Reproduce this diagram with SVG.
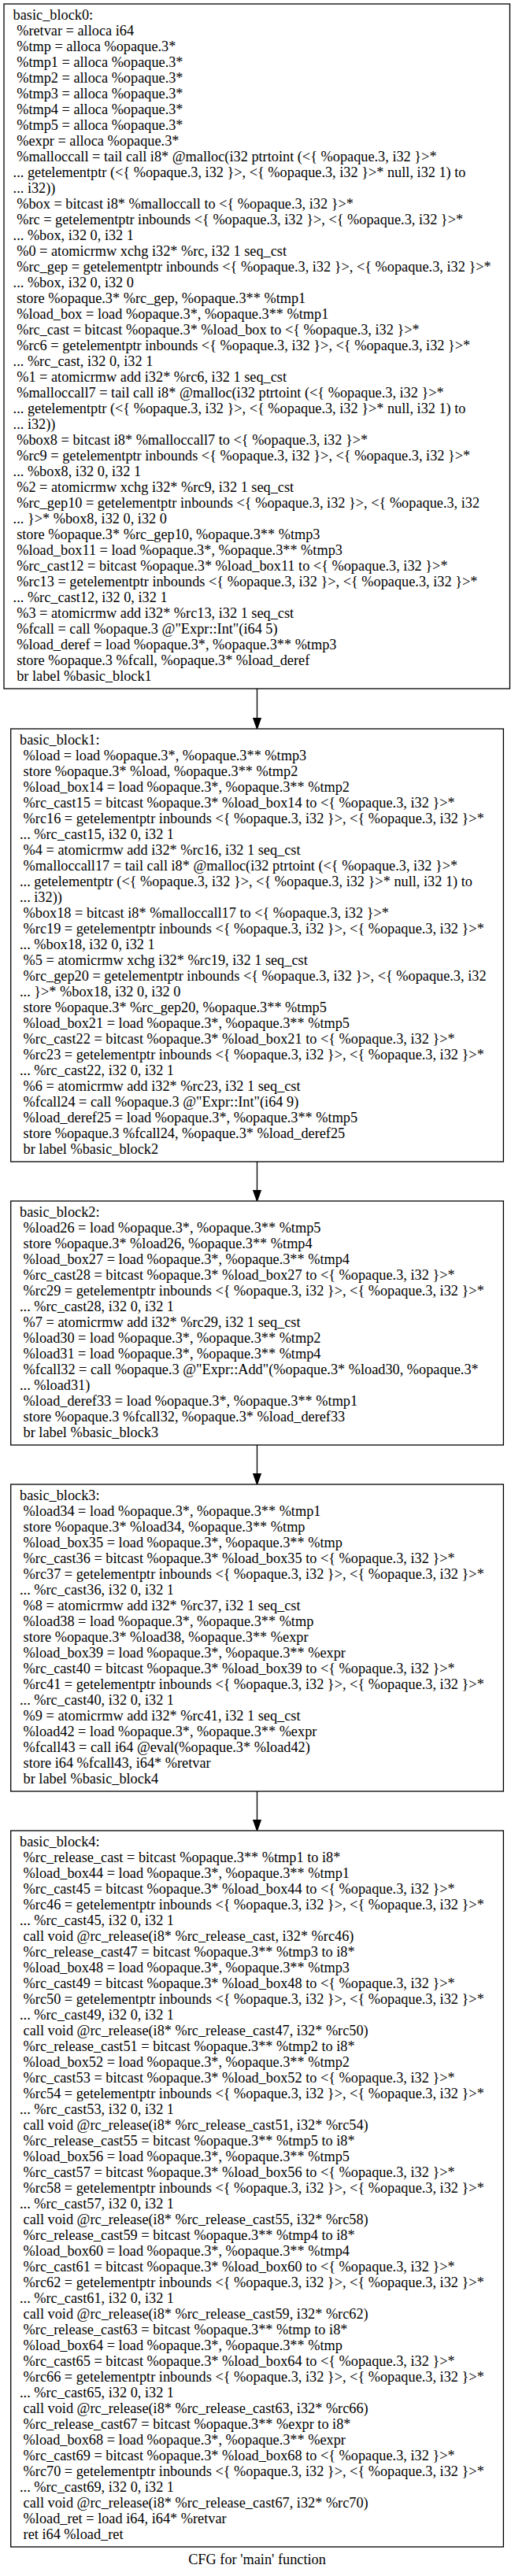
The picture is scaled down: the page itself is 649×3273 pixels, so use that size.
<svg xmlns="http://www.w3.org/2000/svg" width="649" height="3273" viewBox="0 0 649 3273">
<style>
.bg{fill:#ffffff}
.node rect{fill:#ffffff;stroke:#000000;stroke-width:1.3}
.node text,.cap{font-family:"Liberation Serif","Times New Roman",serif;font-size:18.3px;fill:#000000;white-space:pre}
.cap{text-anchor:middle}
.edge line{stroke:#000000;stroke-width:1.3}
.edge polygon{fill:#000000;stroke:#000000;stroke-width:1.3}
</style>
<rect class="bg" x="0" y="0" width="649" height="3273"/>
<g id="edges">
<g class="edge" id="e0"><line x1="326.5" y1="875" x2="326.5" y2="912.7"/><polygon points="326.5,926 321.8,912.7 331.2,912.7"/></g>
<g class="edge" id="e1"><line x1="326.5" y1="1476" x2="326.5" y2="1512.7"/><polygon points="326.5,1526 321.8,1512.7 331.2,1512.7"/></g>
<g class="edge" id="e2"><line x1="326.5" y1="1836" x2="326.5" y2="1872.7"/><polygon points="326.5,1886 321.8,1872.7 331.2,1872.7"/></g>
<g class="edge" id="e3"><line x1="326.5" y1="2276" x2="326.5" y2="2312.7"/><polygon points="326.5,2326 321.8,2312.7 331.2,2312.7"/></g>
</g>
<g class="node" id="basic_block0" xml:space="preserve">
<rect x="5" y="5" width="642.5" height="870"/>
<text x="16.6" y="25">basic_block0:</text>
<text x="16.6" y="45"> %retvar = alloca i64</text>
<text x="16.6" y="65"> %tmp = alloca %opaque.3*</text>
<text x="16.6" y="85"> %tmp1 = alloca %opaque.3*</text>
<text x="16.6" y="105"> %tmp2 = alloca %opaque.3*</text>
<text x="16.6" y="125"> %tmp3 = alloca %opaque.3*</text>
<text x="16.6" y="145"> %tmp4 = alloca %opaque.3*</text>
<text x="16.6" y="165"> %tmp5 = alloca %opaque.3*</text>
<text x="16.6" y="185"> %expr = alloca %opaque.3*</text>
<text x="16.6" y="205"> %malloccall = tail call i8* @malloc(i32 ptrtoint (&lt;{ %opaque.3, i32 }&gt;*</text>
<text x="16.6" y="225">... getelementptr (&lt;{ %opaque.3, i32 }&gt;, &lt;{ %opaque.3, i32 }&gt;* null, i32 1) to</text>
<text x="16.6" y="245">... i32))</text>
<text x="16.6" y="265"> %box = bitcast i8* %malloccall to &lt;{ %opaque.3, i32 }&gt;*</text>
<text x="16.6" y="285"> %rc = getelementptr inbounds &lt;{ %opaque.3, i32 }&gt;, &lt;{ %opaque.3, i32 }&gt;*</text>
<text x="16.6" y="305">... %box, i32 0, i32 1</text>
<text x="16.6" y="325"> %0 = atomicrmw xchg i32* %rc, i32 1 seq_cst</text>
<text x="16.6" y="345"> %rc_gep = getelementptr inbounds &lt;{ %opaque.3, i32 }&gt;, &lt;{ %opaque.3, i32 }&gt;*</text>
<text x="16.6" y="365">... %box, i32 0, i32 0</text>
<text x="16.6" y="385"> store %opaque.3* %rc_gep, %opaque.3** %tmp1</text>
<text x="16.6" y="405"> %load_box = load %opaque.3*, %opaque.3** %tmp1</text>
<text x="16.6" y="425"> %rc_cast = bitcast %opaque.3* %load_box to &lt;{ %opaque.3, i32 }&gt;*</text>
<text x="16.6" y="445"> %rc6 = getelementptr inbounds &lt;{ %opaque.3, i32 }&gt;, &lt;{ %opaque.3, i32 }&gt;*</text>
<text x="16.6" y="465">... %rc_cast, i32 0, i32 1</text>
<text x="16.6" y="485"> %1 = atomicrmw add i32* %rc6, i32 1 seq_cst</text>
<text x="16.6" y="505"> %malloccall7 = tail call i8* @malloc(i32 ptrtoint (&lt;{ %opaque.3, i32 }&gt;*</text>
<text x="16.6" y="525">... getelementptr (&lt;{ %opaque.3, i32 }&gt;, &lt;{ %opaque.3, i32 }&gt;* null, i32 1) to</text>
<text x="16.6" y="545">... i32))</text>
<text x="16.6" y="565"> %box8 = bitcast i8* %malloccall7 to &lt;{ %opaque.3, i32 }&gt;*</text>
<text x="16.6" y="585"> %rc9 = getelementptr inbounds &lt;{ %opaque.3, i32 }&gt;, &lt;{ %opaque.3, i32 }&gt;*</text>
<text x="16.6" y="605">... %box8, i32 0, i32 1</text>
<text x="16.6" y="625"> %2 = atomicrmw xchg i32* %rc9, i32 1 seq_cst</text>
<text x="16.6" y="645"> %rc_gep10 = getelementptr inbounds &lt;{ %opaque.3, i32 }&gt;, &lt;{ %opaque.3, i32</text>
<text x="16.6" y="665">... }&gt;* %box8, i32 0, i32 0</text>
<text x="16.6" y="685"> store %opaque.3* %rc_gep10, %opaque.3** %tmp3</text>
<text x="16.6" y="705"> %load_box11 = load %opaque.3*, %opaque.3** %tmp3</text>
<text x="16.6" y="725"> %rc_cast12 = bitcast %opaque.3* %load_box11 to &lt;{ %opaque.3, i32 }&gt;*</text>
<text x="16.6" y="745"> %rc13 = getelementptr inbounds &lt;{ %opaque.3, i32 }&gt;, &lt;{ %opaque.3, i32 }&gt;*</text>
<text x="16.6" y="765">... %rc_cast12, i32 0, i32 1</text>
<text x="16.6" y="785"> %3 = atomicrmw add i32* %rc13, i32 1 seq_cst</text>
<text x="16.6" y="805"> %fcall = call %opaque.3 @"Expr::Int"(i64 5)</text>
<text x="16.6" y="825"> %load_deref = load %opaque.3*, %opaque.3** %tmp3</text>
<text x="16.6" y="845"> store %opaque.3 %fcall, %opaque.3* %load_deref</text>
<text x="16.6" y="865"> br label %basic_block1</text>
</g>
<g class="node" id="basic_block1" xml:space="preserve">
<rect x="13.7" y="926" width="625.7" height="550"/>
<text x="25" y="946">basic_block1:</text>
<text x="25" y="966"> %load = load %opaque.3*, %opaque.3** %tmp3</text>
<text x="25" y="986"> store %opaque.3* %load, %opaque.3** %tmp2</text>
<text x="25" y="1006"> %load_box14 = load %opaque.3*, %opaque.3** %tmp2</text>
<text x="25" y="1026"> %rc_cast15 = bitcast %opaque.3* %load_box14 to &lt;{ %opaque.3, i32 }&gt;*</text>
<text x="25" y="1046"> %rc16 = getelementptr inbounds &lt;{ %opaque.3, i32 }&gt;, &lt;{ %opaque.3, i32 }&gt;*</text>
<text x="25" y="1066">... %rc_cast15, i32 0, i32 1</text>
<text x="25" y="1086"> %4 = atomicrmw add i32* %rc16, i32 1 seq_cst</text>
<text x="25" y="1106"> %malloccall17 = tail call i8* @malloc(i32 ptrtoint (&lt;{ %opaque.3, i32 }&gt;*</text>
<text x="25" y="1126">... getelementptr (&lt;{ %opaque.3, i32 }&gt;, &lt;{ %opaque.3, i32 }&gt;* null, i32 1) to</text>
<text x="25" y="1146">... i32))</text>
<text x="25" y="1166"> %box18 = bitcast i8* %malloccall17 to &lt;{ %opaque.3, i32 }&gt;*</text>
<text x="25" y="1186"> %rc19 = getelementptr inbounds &lt;{ %opaque.3, i32 }&gt;, &lt;{ %opaque.3, i32 }&gt;*</text>
<text x="25" y="1206">... %box18, i32 0, i32 1</text>
<text x="25" y="1226"> %5 = atomicrmw xchg i32* %rc19, i32 1 seq_cst</text>
<text x="25" y="1246"> %rc_gep20 = getelementptr inbounds &lt;{ %opaque.3, i32 }&gt;, &lt;{ %opaque.3, i32</text>
<text x="25" y="1266">... }&gt;* %box18, i32 0, i32 0</text>
<text x="25" y="1286"> store %opaque.3* %rc_gep20, %opaque.3** %tmp5</text>
<text x="25" y="1306"> %load_box21 = load %opaque.3*, %opaque.3** %tmp5</text>
<text x="25" y="1326"> %rc_cast22 = bitcast %opaque.3* %load_box21 to &lt;{ %opaque.3, i32 }&gt;*</text>
<text x="25" y="1346"> %rc23 = getelementptr inbounds &lt;{ %opaque.3, i32 }&gt;, &lt;{ %opaque.3, i32 }&gt;*</text>
<text x="25" y="1366">... %rc_cast22, i32 0, i32 1</text>
<text x="25" y="1386"> %6 = atomicrmw add i32* %rc23, i32 1 seq_cst</text>
<text x="25" y="1406"> %fcall24 = call %opaque.3 @"Expr::Int"(i64 9)</text>
<text x="25" y="1426"> %load_deref25 = load %opaque.3*, %opaque.3** %tmp5</text>
<text x="25" y="1446"> store %opaque.3 %fcall24, %opaque.3* %load_deref25</text>
<text x="25" y="1466"> br label %basic_block2</text>
</g>
<g class="node" id="basic_block2" xml:space="preserve">
<rect x="13.7" y="1526" width="625.7" height="310"/>
<text x="25" y="1546">basic_block2:</text>
<text x="25" y="1566"> %load26 = load %opaque.3*, %opaque.3** %tmp5</text>
<text x="25" y="1586"> store %opaque.3* %load26, %opaque.3** %tmp4</text>
<text x="25" y="1606"> %load_box27 = load %opaque.3*, %opaque.3** %tmp4</text>
<text x="25" y="1626"> %rc_cast28 = bitcast %opaque.3* %load_box27 to &lt;{ %opaque.3, i32 }&gt;*</text>
<text x="25" y="1646"> %rc29 = getelementptr inbounds &lt;{ %opaque.3, i32 }&gt;, &lt;{ %opaque.3, i32 }&gt;*</text>
<text x="25" y="1666">... %rc_cast28, i32 0, i32 1</text>
<text x="25" y="1686"> %7 = atomicrmw add i32* %rc29, i32 1 seq_cst</text>
<text x="25" y="1706"> %load30 = load %opaque.3*, %opaque.3** %tmp2</text>
<text x="25" y="1726"> %load31 = load %opaque.3*, %opaque.3** %tmp4</text>
<text x="25" y="1746"> %fcall32 = call %opaque.3 @"Expr::Add"(%opaque.3* %load30, %opaque.3*</text>
<text x="25" y="1766">... %load31)</text>
<text x="25" y="1786"> %load_deref33 = load %opaque.3*, %opaque.3** %tmp1</text>
<text x="25" y="1806"> store %opaque.3 %fcall32, %opaque.3* %load_deref33</text>
<text x="25" y="1826"> br label %basic_block3</text>
</g>
<g class="node" id="basic_block3" xml:space="preserve">
<rect x="13.7" y="1886" width="625.7" height="390"/>
<text x="25" y="1906">basic_block3:</text>
<text x="25" y="1926"> %load34 = load %opaque.3*, %opaque.3** %tmp1</text>
<text x="25" y="1946"> store %opaque.3* %load34, %opaque.3** %tmp</text>
<text x="25" y="1966"> %load_box35 = load %opaque.3*, %opaque.3** %tmp</text>
<text x="25" y="1986"> %rc_cast36 = bitcast %opaque.3* %load_box35 to &lt;{ %opaque.3, i32 }&gt;*</text>
<text x="25" y="2006"> %rc37 = getelementptr inbounds &lt;{ %opaque.3, i32 }&gt;, &lt;{ %opaque.3, i32 }&gt;*</text>
<text x="25" y="2026">... %rc_cast36, i32 0, i32 1</text>
<text x="25" y="2046"> %8 = atomicrmw add i32* %rc37, i32 1 seq_cst</text>
<text x="25" y="2066"> %load38 = load %opaque.3*, %opaque.3** %tmp</text>
<text x="25" y="2086"> store %opaque.3* %load38, %opaque.3** %expr</text>
<text x="25" y="2106"> %load_box39 = load %opaque.3*, %opaque.3** %expr</text>
<text x="25" y="2126"> %rc_cast40 = bitcast %opaque.3* %load_box39 to &lt;{ %opaque.3, i32 }&gt;*</text>
<text x="25" y="2146"> %rc41 = getelementptr inbounds &lt;{ %opaque.3, i32 }&gt;, &lt;{ %opaque.3, i32 }&gt;*</text>
<text x="25" y="2166">... %rc_cast40, i32 0, i32 1</text>
<text x="25" y="2186"> %9 = atomicrmw add i32* %rc41, i32 1 seq_cst</text>
<text x="25" y="2206"> %load42 = load %opaque.3*, %opaque.3** %expr</text>
<text x="25" y="2226"> %fcall43 = call i64 @eval(%opaque.3* %load42)</text>
<text x="25" y="2246"> store i64 %fcall43, i64* %retvar</text>
<text x="25" y="2266"> br label %basic_block4</text>
</g>
<g class="node" id="basic_block4" xml:space="preserve">
<rect x="13.7" y="2326" width="625.7" height="910"/>
<text x="25" y="2346">basic_block4:</text>
<text x="25" y="2366"> %rc_release_cast = bitcast %opaque.3** %tmp1 to i8*</text>
<text x="25" y="2386"> %load_box44 = load %opaque.3*, %opaque.3** %tmp1</text>
<text x="25" y="2406"> %rc_cast45 = bitcast %opaque.3* %load_box44 to &lt;{ %opaque.3, i32 }&gt;*</text>
<text x="25" y="2426"> %rc46 = getelementptr inbounds &lt;{ %opaque.3, i32 }&gt;, &lt;{ %opaque.3, i32 }&gt;*</text>
<text x="25" y="2446">... %rc_cast45, i32 0, i32 1</text>
<text x="25" y="2466"> call void @rc_release(i8* %rc_release_cast, i32* %rc46)</text>
<text x="25" y="2486"> %rc_release_cast47 = bitcast %opaque.3** %tmp3 to i8*</text>
<text x="25" y="2506"> %load_box48 = load %opaque.3*, %opaque.3** %tmp3</text>
<text x="25" y="2526"> %rc_cast49 = bitcast %opaque.3* %load_box48 to &lt;{ %opaque.3, i32 }&gt;*</text>
<text x="25" y="2546"> %rc50 = getelementptr inbounds &lt;{ %opaque.3, i32 }&gt;, &lt;{ %opaque.3, i32 }&gt;*</text>
<text x="25" y="2566">... %rc_cast49, i32 0, i32 1</text>
<text x="25" y="2586"> call void @rc_release(i8* %rc_release_cast47, i32* %rc50)</text>
<text x="25" y="2606"> %rc_release_cast51 = bitcast %opaque.3** %tmp2 to i8*</text>
<text x="25" y="2626"> %load_box52 = load %opaque.3*, %opaque.3** %tmp2</text>
<text x="25" y="2646"> %rc_cast53 = bitcast %opaque.3* %load_box52 to &lt;{ %opaque.3, i32 }&gt;*</text>
<text x="25" y="2666"> %rc54 = getelementptr inbounds &lt;{ %opaque.3, i32 }&gt;, &lt;{ %opaque.3, i32 }&gt;*</text>
<text x="25" y="2686">... %rc_cast53, i32 0, i32 1</text>
<text x="25" y="2706"> call void @rc_release(i8* %rc_release_cast51, i32* %rc54)</text>
<text x="25" y="2726"> %rc_release_cast55 = bitcast %opaque.3** %tmp5 to i8*</text>
<text x="25" y="2746"> %load_box56 = load %opaque.3*, %opaque.3** %tmp5</text>
<text x="25" y="2766"> %rc_cast57 = bitcast %opaque.3* %load_box56 to &lt;{ %opaque.3, i32 }&gt;*</text>
<text x="25" y="2786"> %rc58 = getelementptr inbounds &lt;{ %opaque.3, i32 }&gt;, &lt;{ %opaque.3, i32 }&gt;*</text>
<text x="25" y="2806">... %rc_cast57, i32 0, i32 1</text>
<text x="25" y="2826"> call void @rc_release(i8* %rc_release_cast55, i32* %rc58)</text>
<text x="25" y="2846"> %rc_release_cast59 = bitcast %opaque.3** %tmp4 to i8*</text>
<text x="25" y="2866"> %load_box60 = load %opaque.3*, %opaque.3** %tmp4</text>
<text x="25" y="2886"> %rc_cast61 = bitcast %opaque.3* %load_box60 to &lt;{ %opaque.3, i32 }&gt;*</text>
<text x="25" y="2906"> %rc62 = getelementptr inbounds &lt;{ %opaque.3, i32 }&gt;, &lt;{ %opaque.3, i32 }&gt;*</text>
<text x="25" y="2926">... %rc_cast61, i32 0, i32 1</text>
<text x="25" y="2946"> call void @rc_release(i8* %rc_release_cast59, i32* %rc62)</text>
<text x="25" y="2966"> %rc_release_cast63 = bitcast %opaque.3** %tmp to i8*</text>
<text x="25" y="2986"> %load_box64 = load %opaque.3*, %opaque.3** %tmp</text>
<text x="25" y="3006"> %rc_cast65 = bitcast %opaque.3* %load_box64 to &lt;{ %opaque.3, i32 }&gt;*</text>
<text x="25" y="3026"> %rc66 = getelementptr inbounds &lt;{ %opaque.3, i32 }&gt;, &lt;{ %opaque.3, i32 }&gt;*</text>
<text x="25" y="3046">... %rc_cast65, i32 0, i32 1</text>
<text x="25" y="3066"> call void @rc_release(i8* %rc_release_cast63, i32* %rc66)</text>
<text x="25" y="3086"> %rc_release_cast67 = bitcast %opaque.3** %expr to i8*</text>
<text x="25" y="3106"> %load_box68 = load %opaque.3*, %opaque.3** %expr</text>
<text x="25" y="3126"> %rc_cast69 = bitcast %opaque.3* %load_box68 to &lt;{ %opaque.3, i32 }&gt;*</text>
<text x="25" y="3146"> %rc70 = getelementptr inbounds &lt;{ %opaque.3, i32 }&gt;, &lt;{ %opaque.3, i32 }&gt;*</text>
<text x="25" y="3166">... %rc_cast69, i32 0, i32 1</text>
<text x="25" y="3186"> call void @rc_release(i8* %rc_release_cast67, i32* %rc70)</text>
<text x="25" y="3206"> %load_ret = load i64, i64* %retvar</text>
<text x="25" y="3226"> ret i64 %load_ret</text>
</g>
<g id="caption">
<text class="cap" x="326.5" y="3258">CFG for 'main' function</text>
</g>
</svg>
